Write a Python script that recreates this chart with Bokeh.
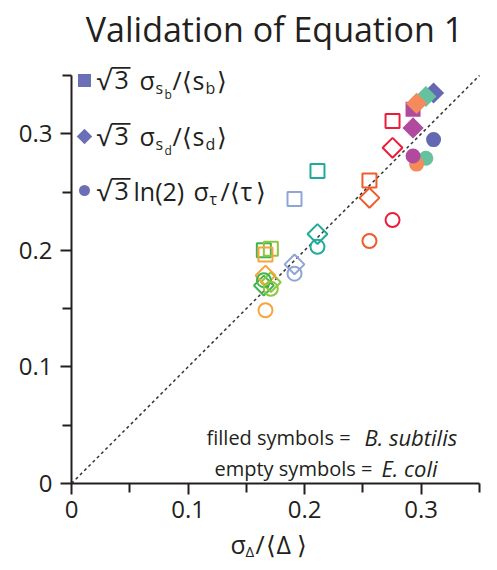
from bokeh.plotting import figure
from bokeh.models import Label, FixedTicker, Range1d, BoxAnnotation
from bokeh.embed import file_html
from bokeh.resources import INLINE

NAN = float("nan")

# ---------------- data ----------------
# E. coli (empty symbols): one x per data set, three y estimates
ecoli_colors = ["#ec1c3a", "#f15a2a", "#1fab9a", "#8fa5d8", "#3fb54a", "#8dc63f", "#f9a33a"]
ecoli_x = [0.2754, 0.2556, 0.211, 0.1913, 0.165, 0.171, 0.1664]
ecoli_sq = [0.311, 0.260, 0.268, 0.244, 0.200, 0.2013, 0.1965]
ecoli_dia = [0.288, 0.245, 0.214, 0.188, 0.1698, 0.1727, 0.1784]
ecoli_circ = [0.226, 0.208, 0.203, 0.180, 0.1744, 0.167, 0.1486]

# B. subtilis (filled symbols); squares hidden under diamonds are not readable
bsub_colors = ["#6467b2", "#66c29e", "#f58a5b", "#b04a9e"]
bsub_x = [0.3106, 0.304, 0.296, 0.2930]
bsub_sq = [NAN, NAN, NAN, 0.321]
bsub_dia = [0.335, 0.332, 0.326, 0.305]
bsub_circ = [0.295, 0.279, 0.274, 0.281]

diag = [0.0, 0.35]
axis_bounds = (0.0, 0.35)
major_ticks = [0.0, 0.1, 0.2, 0.3]
minor_ticks = [0.05, 0.15, 0.25, 0.35]
tick_labels = {0.0: "0", 0.1: "0.1", 0.2: "0.2", 0.3: "0.3"}

FONT = "Open Sans"
INK = "#231f20"

# ---------------- layout (canvas pixel helpers) ----------------
W, H = 489, 562          # canvas = frame
X0, Y0 = 71, 483         # pixel position of data origin
S = 408 / 0.35           # pixels per data unit
K = 0.33                 # baseline correction (fraction of font size)


def X(px):
    return (px - X0) / S


def Y(py):
    return (Y0 - py) / S


p = figure(frame_width=W, frame_height=H,
           x_range=Range1d(X(0), X(W)), y_range=Range1d(Y(H), Y(0)),
           output_backend="svg", toolbar_location=None,
           min_border_left=0, min_border_top=0, min_border_right=0, min_border_bottom=0)
p.title.visible = False
p.outline_line_color = None
p.grid.visible = False
p.background_fill_color = "white"
p.border_fill_color = "white"

for ax in (p.xaxis[0], p.yaxis[0]):
    ax.fixed_location = 0
    ax.bounds = axis_bounds
    ax.ticker = FixedTicker(ticks=major_ticks, minor_ticks=minor_ticks)
    ax.major_label_overrides = tick_labels
    ax.axis_line_width = 2
    ax.axis_line_color = INK
    ax.major_tick_line_width = 2
    ax.minor_tick_line_width = 2
    ax.major_tick_line_color = INK
    ax.minor_tick_line_color = INK
    ax.major_tick_in = 0
    ax.major_tick_out = 11
    ax.minor_tick_in = 0
    ax.minor_tick_out = 9
    ax.major_label_text_font = FONT
    ax.major_label_text_font_size = "24px"
    ax.major_label_text_color = INK
p.yaxis.major_label_standoff = 8
p.xaxis.major_label_standoff = 6

# diagonal
p.line(diag, diag, line_color="#333333", line_width=1.5, line_dash="3 3")

# E. coli empty symbols
p.scatter(ecoli_x, ecoli_sq, marker="square", size=14, fill_color=None,
          line_color=ecoli_colors, line_width=2)
p.scatter(ecoli_x, ecoli_dia, marker="square", angle=0.785398, size=14, fill_color=None,
          line_color=ecoli_colors, line_width=2)
p.scatter(ecoli_x, ecoli_circ, marker="circle", size=14, fill_color=None,
          line_color=ecoli_colors, line_width=2)

# B. subtilis filled symbols
p.scatter(bsub_x, bsub_sq, marker="square", size=15, fill_color=bsub_colors,
          line_color=None)
p.scatter(bsub_x, bsub_dia, marker="square", angle=0.785398, size=15, fill_color=bsub_colors,
          line_color=None)
p.scatter(bsub_x, bsub_circ, marker="circle", size=15, fill_color=bsub_colors,
          line_color=None)

# legend markers
LEG = "#6b6fb5"
p.scatter([X(84)], [Y(80)], marker="square", size=13, fill_color=LEG, line_color=None)
p.scatter([X(84)], [Y(136)], marker="square", angle=0.785398, size=11, fill_color=LEG, line_color=None)
p.scatter([X(84)], [Y(190)], marker="circle", size=11, fill_color=LEG, line_color=None)


def lab(px, py, text, size, style="normal", align="left"):
    p.add_layout(Label(x=X(px), y=Y(py - K * size), text=text, text_font=FONT,
                       text_font_size=f"{size}px", text_font_style=style, text_color=INK,
                       text_align=align, text_baseline="alphabetic"))


def sqrt3(base):
    lab(96, base, "√", 27)
    lab(114, base, "3", 25)
    p.add_layout(BoxAnnotation(left=X(111), right=X(130), top=Y(base - 21.5), bottom=Y(base - 19.8),
                               fill_color=INK, fill_alpha=1, line_color=None))


# legend row 1
b1 = 88
sqrt3(b1)
lab(139, b1, "σ", 25)
lab(155, b1 + 5, "s", 16)
lab(164, b1 + 10, "b", 12)
lab(172, b1, "/", 25)
lab(181, b1, "⟨", 25)
lab(192, b1, "s", 25)
lab(205, b1 + 5, "b", 16)
lab(216, b1, "⟩", 25)

# legend row 2
b2 = 144
sqrt3(b2)
lab(139, b2, "σ", 25)
lab(155, b2 + 5, "s", 16)
lab(164, b2 + 10, "d", 12)
lab(172, b2, "/", 25)
lab(181, b2, "⟨", 25)
lab(192, b2, "s", 25)
lab(205, b2 + 5, "d", 16)
lab(216, b2, "⟩", 25)

# legend row 3
b3 = 199
sqrt3(b3)
lab(133, b3, "ln(2)", 25)
lab(193, b3, "σ", 25)
lab(209, b3 + 5, "τ", 16)
lab(220, b3, "/", 25)
lab(229, b3, "⟨", 25)
lab(240, b3, "τ", 25)
lab(255, b3, "⟩", 25)

# title
lab(274, 40, "Validation of Equation 1", 34, align="center")

# species note
lab(206, 444, "filled symbols =", 20)
lab(364, 444, "B. subtilis", 22, style="italic")
lab(214, 475, "empty symbols =", 20)
lab(381, 475, "E. coli", 22, style="italic")

# x axis label
xb = 552
lab(230, xb, "σ", 25)
lab(245, xb + 3, "Δ", 15)
lab(255, xb, "/", 25)
lab(265, xb, "⟨", 25)
lab(276, xb, "Δ", 25)
lab(296, xb, "⟩", 25)

open("out.html", "w").write(file_html(p, INLINE))
